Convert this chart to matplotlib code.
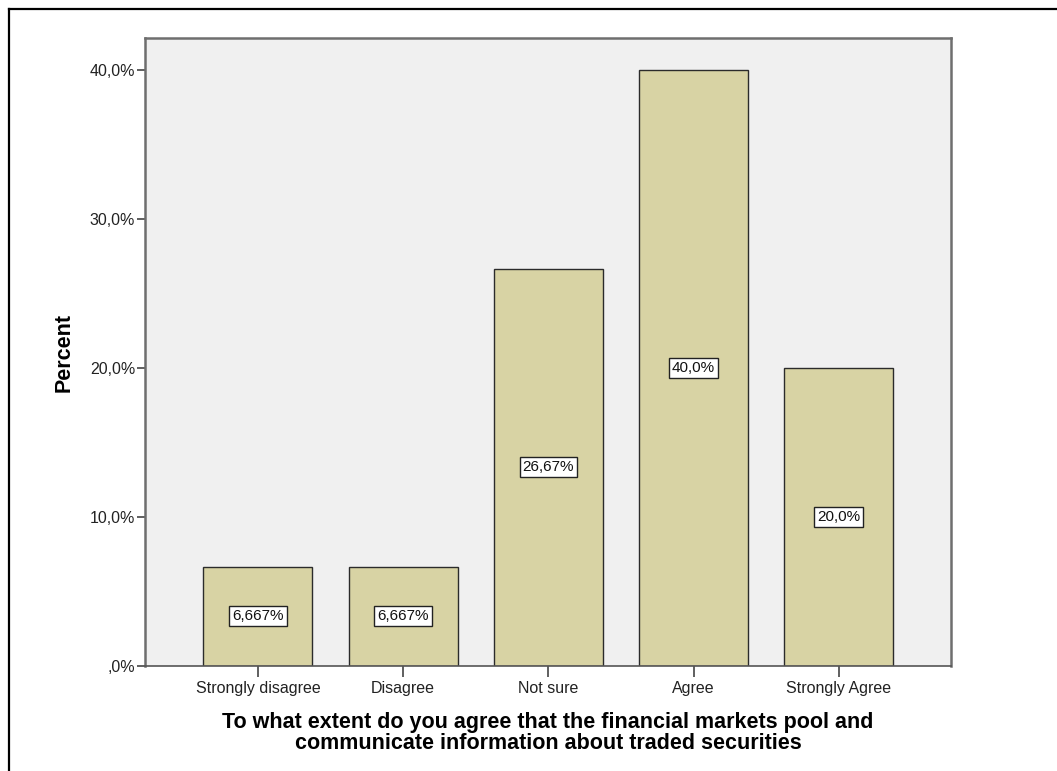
import matplotlib

matplotlib.use("Agg")
import matplotlib.pyplot as plt
from matplotlib.lines import Line2D
from matplotlib.ticker import FuncFormatter

categories = ["Strongly disagree", "Disagree", "Not sure", "Agree", "Strongly Agree"]
percents = [6.667, 6.667, 26.67, 40.0, 20.0]
y_ticks = [0, 10, 20, 30, 40]
x_title = ("To what extent do you agree that the financial markets pool and\n"
           "communicate information about traded securities")

plt.rcParams["font.family"] = ["Liberation Sans", "DejaVu Sans"]

BAR_COLOR = "#d8d3a4"
PANEL_COLOR = "#f0f0f0"
AXIS_COLOR = "#6e6e6e"


def pct_label(value: float) -> str:
    # decimal comma, leading zero dropped the way the tick labels show it
    text = f"{value}".replace(".", ",")
    return text + "%"


def tick_label(value: float, _pos) -> str:
    text = f"{value:.1f}".replace(".", ",")
    if text.startswith("0,"):
        text = text[1:]
    return text + "%"


fig = plt.figure(figsize=(10.57, 7.71), dpi=100)
ax = fig.add_axes([0.1372, 0.1362, 0.7625, 0.8145])
ax.set_facecolor(PANEL_COLOR)

xs = list(range(len(categories)))
bars = ax.bar(xs, percents, width=0.75, color=BAR_COLOR, edgecolor="#2b2b2b", linewidth=1.0, zorder=2)

for bar, value in zip(bars, percents):
    ax.text(
        bar.get_x() + bar.get_width() / 2,
        value / 2,
        pct_label(value),
        ha="center",
        va="center",
        fontsize=11,
        color="#111111",
        zorder=3,
        bbox=dict(boxstyle="square,pad=0.2", facecolor="white", edgecolor="#222222", linewidth=1.0),
    )

ax.set_xlim(-0.777, len(categories) - 1 + 0.772)
ax.set_ylim(0, 42.15)
ax.set_yticks(y_ticks)
ax.yaxis.set_major_formatter(FuncFormatter(tick_label))
ax.set_xticks(xs)
ax.set_xticklabels(categories)

for side in ("left", "right", "top", "bottom"):
    ax.spines[side].set_color(AXIS_COLOR)
    ax.spines[side].set_linewidth(1.8)
ax.spines["bottom"].set_color("#555555")
ax.spines["bottom"].set_linewidth(1.2)

ax.tick_params(axis="y", length=6, width=1.2, color="#444444", labelsize=11.5, labelcolor="#222222", pad=1)
ax.tick_params(axis="x", length=8, width=1.2, color="#444444", labelsize=11.5, labelcolor="#222222", pad=3)

ax.set_ylabel("Percent", fontsize=15.5, fontweight="bold", labelpad=11)
ax.set_xlabel(x_title, fontsize=15.5, fontweight="bold", labelpad=11, linespacing=1.0)

# outer frame lines along the left and top edges
fig.add_artist(Line2D([9 / 1057, 9 / 1057], [0, 1 - 9 / 771], transform=fig.transFigure, color="black", linewidth=1.6))
fig.add_artist(Line2D([9 / 1057, 1], [1 - 9 / 771, 1 - 9 / 771], transform=fig.transFigure, color="black", linewidth=1.6))

fig.savefig("out.png", dpi=100, facecolor="white")
plt.close(fig)
